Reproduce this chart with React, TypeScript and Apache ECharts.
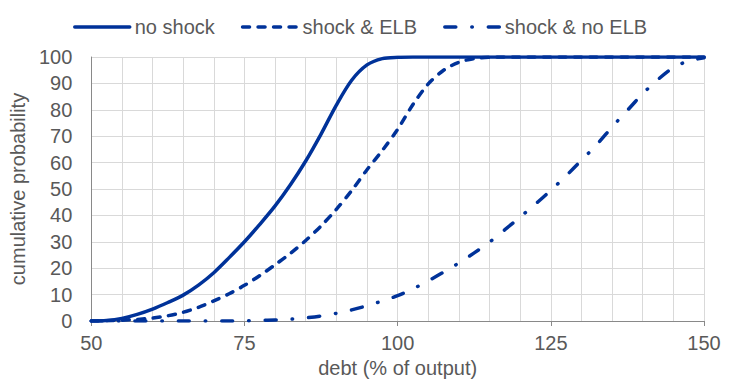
import React, { useEffect, useRef } from "react";
import * as echarts from "echarts";

const debt = [
  50, 52.5, 55, 57.5, 60, 62.5, 65, 67.5, 70, 72.5, 75, 77.5, 80, 82.5, 85, 87.5, 90, 92.5, 95, 97.5,
  100, 102.5, 105, 107.5, 110, 112.5, 115, 117.5, 120, 122.5, 125, 127.5, 130, 132.5, 135, 137.5, 140,
  142.5, 145, 147.5, 150,
];

const noShock = [
  0, 0.2, 1.0, 2.5, 4.5, 7, 9.8, 13.6, 18.3, 24, 30, 36.6, 43.6, 51.6, 60.6, 70.8, 81.8, 91.2, 97, 99.4,
  99.9, 100, 100, 100, 100, 100, 100, 100, 100, 100, 100, 100, 100, 100, 100, 100, 100, 100, 100, 100, 100,
];

const shockELB = [
  0, 0.1, 0.3, 0.6, 1.1, 2, 3.3, 5.2, 7.6, 10.3, 13.5, 17.2, 21.3, 25.6, 30.5, 36, 42.3, 49.4, 57.3, 64.6,
  72.6, 82, 89.8, 95, 98, 99.4, 99.9, 100, 100, 100, 100, 100, 100, 100, 100, 100, 100, 100, 100, 100, 100,
];

const shockNoELB = [
  0, 0, 0, 0, 0, 0, 0, 0, 0, 0, 0.1, 0.2, 0.4, 0.7, 1.2, 1.9, 2.9, 4.2, 5.8, 7.6, 9.6, 12.2, 15.2, 18.5,
  22, 25.8, 29.9, 34.6, 39.4, 44.3, 49.5, 55, 60.9, 66.8, 73.5, 79.8, 86.1, 91.5, 96, 98.5, 99.7,
];

const seriesNames = ["no shock", "shock & ELB", "shock & no ELB"];
const xTicks = [50, 75, 100, 125, 150];

const BLUE = "#003299";
const TEXT = "#595959";
const FONT = "'Liberation Sans', Arial, sans-serif";

function pairs(ys: number[]) {
  return debt.map((x, i) => [x, ys[i]]);
}

export default function App() {
  const ref = useRef<HTMLDivElement>(null);
  useEffect(() => {
    if (!ref.current) return;
    const chart = echarts.init(ref.current, undefined, { renderer: "svg" });
    const lineBase = { color: BLUE, width: 3.5, cap: "round" as const, join: "round" as const };
    chart.setOption({
      animation: false,
      textStyle: { fontFamily: FONT },
      legend: {
        left: 68,
        top: 12,
        itemWidth: 55,
        itemHeight: 14,
        itemGap: 26,
        itemStyle: { opacity: 0 },
        lineStyle: { width: 3.5 },
        textStyle: { color: TEXT, fontSize: 20, fontFamily: FONT },
        data: seriesNames,
      },
      grid: { left: 86, right: 45, top: 57, bottom: 63, containLabel: false },
      xAxis: {
        type: "value",
        min: xTicks[0],
        max: xTicks[xTicks.length - 1],
        interval: 25,
        name: "debt (% of output)",
        nameLocation: "middle",
        nameGap: 37,
        nameTextStyle: { color: TEXT, fontSize: 20, fontFamily: FONT },
        axisLine: { show: true, lineStyle: { color: "#898989", width: 1 } },
        axisTick: { show: true, length: 5, lineStyle: { color: "#898989" } },
        axisLabel: { color: TEXT, fontSize: 20, fontFamily: FONT, margin: 12 },
        splitLine: { show: true, lineStyle: { color: "#d9d9d9", width: 1 } },
        minorTick: { show: false, splitNumber: 5 },
        minorSplitLine: { show: true, lineStyle: { color: "#d9d9d9", width: 1 } },
      },
      yAxis: {
        type: "value",
        min: 0,
        max: 100,
        interval: 10,
        name: "cumulative probability",
        nameLocation: "middle",
        nameGap: 57,
        nameTextStyle: { color: TEXT, fontSize: 20, fontFamily: FONT },
        axisLine: { show: true, lineStyle: { color: "#898989", width: 1 } },
        axisTick: { show: false },
        axisLabel: { color: TEXT, fontSize: 20, fontFamily: FONT, margin: 19 },
        splitLine: { show: true, lineStyle: { color: "#d9d9d9", width: 1 } },
      },
      series: [
        {
          name: seriesNames[0],
          type: "line",
          data: pairs(noShock),
          symbol: "none",
          smooth: 0.3,
          lineStyle: { ...lineBase, type: "solid" },
          itemStyle: { color: BLUE },
          z: 3,
        },
        {
          name: seriesNames[1],
          type: "line",
          data: pairs(shockELB),
          symbol: "none",
          smooth: 0.3,
          lineStyle: { ...lineBase, type: [7, 8.5] },
          itemStyle: { color: BLUE },
          z: 2,
        },
        {
          name: seriesNames[2],
          type: "line",
          data: pairs(shockNoELB),
          symbol: "none",
          smooth: 0.3,
          lineStyle: { ...lineBase, type: [11, 16, 0.5, 16] },
          itemStyle: { color: BLUE },
          z: 2,
        },
      ],
    });
    return () => chart.dispose();
  }, []);
  return (
    <div
      ref={ref}
      style={{ position: "absolute", left: 0, top: 0, width: 749, height: 384 }}
    />
  );
}
